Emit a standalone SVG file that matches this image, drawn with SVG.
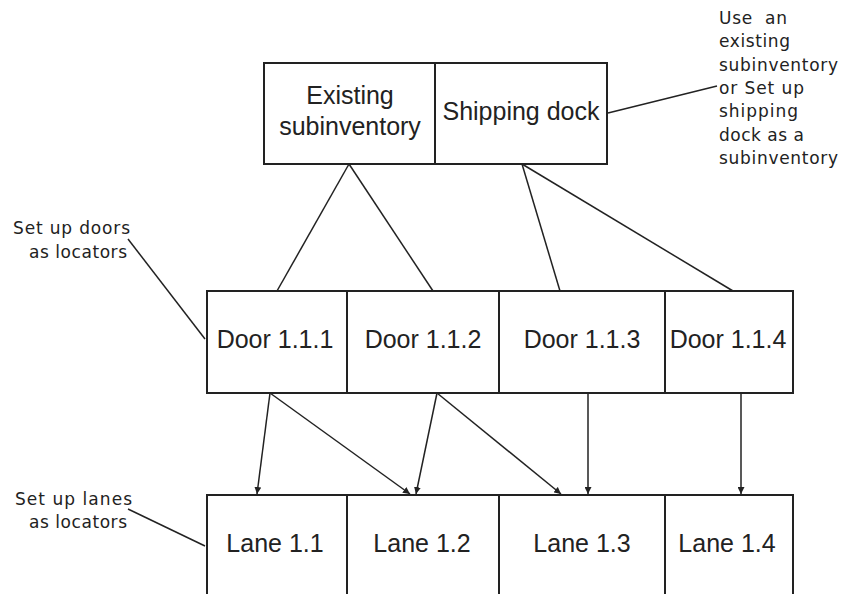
<svg xmlns="http://www.w3.org/2000/svg" width="842" height="594" viewBox="0 0 842 594">
  <style>
    .box { fill: #ffffff; stroke: #222222; stroke-width: 2; }
    .label { font-family: "Liberation Sans", Arial, sans-serif; font-size: 25px; fill: #222222; text-anchor: middle; }
    .note { font-family: "DejaVu Sans", Verdana, sans-serif; font-size: 17px; fill: #222222; }
    .link { fill: none; stroke: #222222; stroke-width: 1.5; }
    .arrow { fill: none; stroke: #222222; stroke-width: 1.5; marker-end: url(#head); }
  </style>
  <defs>
    <marker id="head" markerUnits="userSpaceOnUse" markerWidth="8" markerHeight="7" refX="7" refY="3.5" orient="auto">
      <path d="M0,0 L7,3.5 L0,7 Z" fill="#222222"/>
    </marker>
  </defs>
  <rect width="842" height="594" fill="#ffffff"/>

  <!-- connectors -->
  <g id="connectors">
    <!-- subinventory level to door locators -->
    <line class="link" x1="349" y1="164" x2="277" y2="291"/>
    <line class="link" x1="349" y1="164" x2="433" y2="291"/>
    <line class="link" x1="522" y1="164" x2="560" y2="291"/>
    <line class="link" x1="522" y1="164" x2="733" y2="291"/>
    <!-- callout leaders -->
    <line class="link" x1="608" y1="113" x2="717" y2="86"/>
    <line class="link" x1="128" y1="239" x2="205" y2="339"/>
    <line class="link" x1="128" y1="509" x2="205" y2="546"/>
    <!-- doors to lanes -->
    <line class="arrow" x1="270" y1="393" x2="257" y2="494"/>
    <line class="arrow" x1="270" y1="393" x2="410" y2="494"/>
    <line class="arrow" x1="437" y1="393" x2="416" y2="494"/>
    <line class="arrow" x1="437" y1="393" x2="561" y2="494"/>
    <line class="arrow" x1="588" y1="393" x2="588" y2="494"/>
    <line class="arrow" x1="741" y1="393" x2="741" y2="494"/>
  </g>

  <!-- subinventories -->
  <g id="existing-subinventory">
    <rect class="box" x="264" y="63" width="171" height="101"/>
    <text class="label" x="350" y="104">Existing</text>
    <text class="label" x="350" y="135">subinventory</text>
  </g>
  <g id="shipping-dock">
    <rect class="box" x="435" y="63" width="172" height="101"/>
    <text class="label" x="521" y="120">Shipping dock</text>
  </g>

  <!-- door locators -->
  <g id="door-1-1-1">
    <rect class="box" x="207" y="291" width="140" height="102"/>
    <text class="label" x="275" y="348">Door 1.1.1</text>
  </g>
  <g id="door-1-1-2">
    <rect class="box" x="347" y="291" width="152" height="102"/>
    <text class="label" x="423" y="348">Door 1.1.2</text>
  </g>
  <g id="door-1-1-3">
    <rect class="box" x="499" y="291" width="166" height="102"/>
    <text class="label" x="582" y="348">Door 1.1.3</text>
  </g>
  <g id="door-1-1-4">
    <rect class="box" x="665" y="291" width="128" height="102"/>
    <text class="label" x="728" y="348">Door 1.1.4</text>
  </g>

  <!-- lane locators -->
  <g id="lane-1-1">
    <rect class="box" x="207" y="495" width="140" height="110"/>
    <text class="label" x="275" y="552">Lane 1.1</text>
  </g>
  <g id="lane-1-2">
    <rect class="box" x="347" y="495" width="152" height="110"/>
    <text class="label" x="422" y="552">Lane 1.2</text>
  </g>
  <g id="lane-1-3">
    <rect class="box" x="499" y="495" width="166" height="110"/>
    <text class="label" x="582" y="552">Lane 1.3</text>
  </g>
  <g id="lane-1-4">
    <rect class="box" x="665" y="495" width="128" height="110"/>
    <text class="label" x="727" y="552">Lane 1.4</text>
  </g>

  <!-- callout notes -->
  <g id="note-subinventory">
    <text class="note" x="719" y="24" textLength="68" lengthAdjust="spacing" xml:space="preserve">Use  an</text>
    <text class="note" x="719" y="47" textLength="71" lengthAdjust="spacing">existing</text>
    <text class="note" x="719" y="71" textLength="119" lengthAdjust="spacing">subinventory</text>
    <text class="note" x="719" y="94" textLength="85" lengthAdjust="spacing">or Set up</text>
    <text class="note" x="719" y="117" textLength="79" lengthAdjust="spacing">shipping</text>
    <text class="note" x="719" y="141" textLength="85" lengthAdjust="spacing">dock as a</text>
    <text class="note" x="719" y="164" textLength="119" lengthAdjust="spacing">subinventory</text>
  </g>
  <g id="note-doors">
    <text class="note" x="13" y="234" textLength="117" lengthAdjust="spacing">Set up doors</text>
    <text class="note" x="29" y="258" textLength="98" lengthAdjust="spacing">as locators</text>
  </g>
  <g id="note-lanes">
    <text class="note" x="15" y="505" textLength="117" lengthAdjust="spacing">Set up lanes</text>
    <text class="note" x="29" y="528" textLength="98" lengthAdjust="spacing">as locators</text>
  </g>
</svg>
